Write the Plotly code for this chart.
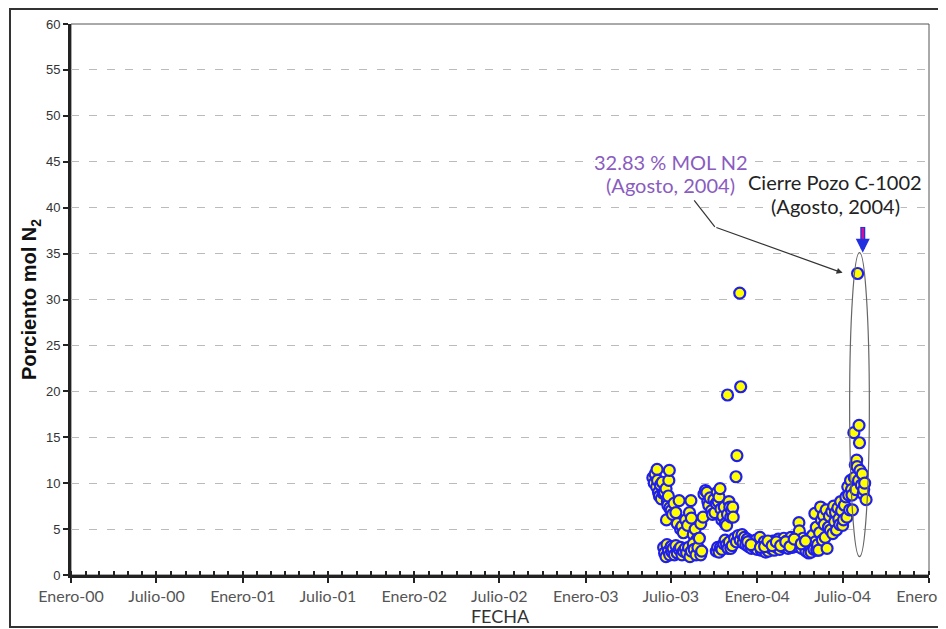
import plotly.graph_objects as go

# ---------------- data (fecha de muestreo, % mol N2) ----------------
f_a = ["2003-05-24","2003-05-27","2003-05-29","2003-06-01","2003-06-02","2003-06-03","2003-06-05","2003-06-07",
       "2003-06-09","2003-06-11","2003-06-13","2003-06-15","2003-06-18","2003-06-21","2003-06-22","2003-06-24",
       "2003-06-25","2003-06-26","2003-06-27","2003-06-28","2003-06-29","2003-07-02","2003-07-05","2003-07-08",
       "2003-07-12","2003-07-15","2003-07-19","2003-07-22","2003-07-25","2003-07-28","2003-08-02","2003-08-06",
       "2003-08-10","2003-08-13","2003-08-14","2003-08-18","2003-08-22","2003-08-25","2003-08-30","2003-09-03",
       "2003-09-08"]
n_a = [10.6,10.0,11.0,9.6,11.5,10.3,9.0,8.6,
       9.8,8.3,10.1,8.9,9.0,9.4,6.0,8.0,
       7.6,8.6,10.3,11.4,7.3,7.0,6.6,7.8,
       6.8,5.6,8.1,5.0,5.3,4.6,6.0,5.4,
       6.8,8.1,6.2,4.4,5.0,3.8,4.0,5.6,
       6.3]

f_b = ["2003-06-16","2003-06-18","2003-06-21","2003-06-23","2003-06-26","2003-06-29","2003-07-02","2003-07-04",
       "2003-07-06","2003-07-09","2003-07-12","2003-07-15","2003-07-19","2003-07-22","2003-07-25","2003-07-28",
       "2003-08-01","2003-08-04","2003-08-08","2003-08-11","2003-08-14","2003-08-18","2003-08-20","2003-08-24",
       "2003-08-28","2003-08-31","2003-09-03","2003-09-05"]
n_b = [3.0,2.4,2.0,3.3,2.6,2.2,3.1,2.5,
       2.9,2.2,3.2,2.4,2.8,3.0,2.2,2.6,
       2.9,2.4,3.0,2.0,2.6,3.4,2.8,2.2,
       3.0,4.0,2.2,2.6]

f_c = ["2003-09-10","2003-09-13","2003-09-16","2003-09-18","2003-09-20","2003-09-23","2003-09-26","2003-09-28",
       "2003-10-01","2003-10-03","2003-10-06","2003-10-08","2003-10-10","2003-10-12","2003-10-14","2003-10-16",
       "2003-10-18","2003-10-20","2003-10-23","2003-10-25","2003-10-28","2003-10-30","2003-11-02","2003-11-04",
       "2003-11-06","2003-11-08","2003-11-10","2003-11-11"]
n_c = [8.8,9.2,9.0,8.0,7.6,8.4,7.0,6.6,
       8.2,6.8,7.8,9.0,8.0,8.5,9.4,7.2,
       6.0,6.4,7.4,5.6,5.4,6.6,8.0,7.4,
       6.3,7.0,7.4,6.3]

f_d = ["2003-10-06","2003-10-09","2003-10-12","2003-10-15","2003-10-18","2003-10-22","2003-10-25","2003-10-28",
       "2003-10-31","2003-11-03","2003-11-06","2003-11-09"]
n_d = [2.6,3.0,2.5,3.0,2.8,3.4,3.8,3.3,
       2.9,3.6,2.9,3.2]

f_e = ["2003-10-30","2003-11-25","2003-11-27","2003-11-19","2003-11-17"]
n_e = [19.6,30.7,20.5,13.0,10.7]

f_f = ["2003-11-14","2003-11-18","2003-11-22","2003-11-26","2003-11-30","2003-12-02","2003-12-05","2003-12-08",
       "2003-12-11","2003-12-14","2003-12-17","2003-12-20","2003-12-23","2003-12-26","2003-12-29","2004-01-01",
       "2004-01-04","2004-01-07","2004-01-10","2004-01-13","2004-01-16","2004-01-19","2004-01-22","2004-01-25",
       "2004-01-28","2004-01-31","2004-02-03","2004-02-06","2004-02-09","2004-02-12","2004-02-15","2004-02-18",
       "2004-02-21","2004-02-24","2004-02-27","2004-03-01","2004-03-04","2004-03-07","2004-03-10","2004-03-13",
       "2004-03-16","2004-03-19","2004-03-22","2004-03-25","2004-03-28","2004-03-30","2004-03-31","2004-04-02",
       "2004-04-05","2004-04-08","2004-04-11","2004-04-14","2004-04-17","2004-04-20","2004-04-23","2004-04-25",
       "2004-04-28","2004-05-01","2004-05-04","2004-05-07",
       "2003-12-12","2003-12-19","2004-01-08","2004-01-17","2004-01-24","2004-02-02","2004-02-11","2004-02-20",
       "2004-03-02","2004-03-11","2004-03-20","2004-04-04","2004-04-13"]
n_f = [4.0,3.6,4.3,3.8,4.4,3.5,4.1,3.3,
       3.9,3.1,3.7,2.9,3.5,3.0,3.8,2.8,
       3.4,4.1,2.7,3.2,3.6,2.5,3.0,2.6,
       3.4,2.9,3.7,2.7,3.3,3.0,3.9,2.8,
       3.5,3.1,4.0,3.2,3.7,2.9,3.5,4.1,
       3.0,3.6,3.3,4.2,3.1,5.7,4.8,3.6,
       2.9,4.0,3.3,2.6,3.8,2.4,3.1,2.5,
       4.3,2.8,3.6,2.7,
       3.6,3.3,3.0,3.1,3.7,3.2,3.6,3.2,
       3.6,3.1,3.9,3.4,3.7]

f_g = ["2004-05-03","2004-05-06","2004-05-09","2004-05-11","2004-05-13","2004-05-15","2004-05-17","2004-05-19",
       "2004-05-21","2004-05-23","2004-05-25","2004-05-27","2004-05-29","2004-06-01","2004-06-03","2004-06-05",
       "2004-06-08","2004-06-10","2004-06-12","2004-06-14","2004-06-16","2004-06-18","2004-06-21","2004-06-23",
       "2004-06-25","2004-06-27","2004-06-29","2004-07-01","2004-07-03","2004-07-05","2004-07-08","2004-07-10",
       "2004-07-12","2004-07-14","2004-07-16","2004-07-18","2004-07-20"]
n_g = [6.7,5.2,3.3,2.7,4.6,7.4,6.0,3.8,
       6.5,5.5,4.1,7.1,2.9,5.2,6.4,4.9,
       6.9,4.5,7.5,5.8,6.8,4.9,7.3,6.1,
       5.5,8.0,7.0,5.4,6.0,7.6,8.5,6.3,
       9.6,8.7,7.1,10.3,9.3]

f_h = ["2004-07-21","2004-07-22","2004-07-25","2004-07-26","2004-07-28","2004-07-29","2004-07-31","2004-08-01",
       "2004-08-02","2004-08-04","2004-08-05","2004-08-06","2004-08-07","2004-08-10","2004-08-12","2004-08-14",
       "2004-08-15","2004-08-17","2004-08-20"]
n_h = [8.7,7.1,15.5,10.6,12.0,9.3,12.5,11.8,
       32.83,10.3,16.3,14.4,11.4,9.8,11.0,8.8,
       9.3,10.0,8.2]

fecha = f_a + f_b + f_c + f_d + f_e + f_f + f_g + f_h
n2 = n_a + n_b + n_c + n_d + n_e + n_f + n_g + n_h

tick_fechas = ["2000-01-01","2000-07-01","2001-01-01","2001-07-01","2002-01-01","2002-07-01",
               "2003-01-01","2003-07-01","2004-01-01","2004-07-01","2005-01-01"]
tick_labels = ["Enero-00","Julio-00","Enero-01","Julio-01","Enero-02","Julio-02",
               "Enero-03","Julio-03","Enero-04","Julio-04","Enero-05"]

# ---------------- figure ----------------
fig = go.Figure()
fig.add_trace(go.Scatter(
    x=fecha, y=n2, mode="markers", showlegend=False,
    marker=dict(size=11, color="#FFFF00", line=dict(color="#1E1EF0", width=2.2)),
))

lab_font = "Lato, 'Open Sans', sans-serif"
arial = "'Liberation Sans', Arial, sans-serif"

# the page body has an 8 px margin; margins are set so the plot area lands where the reference has it
fig.update_layout(
    width=946, height=629,
    margin=dict(l=63, r=25, t=16, b=62, autoexpand=False),
    paper_bgcolor="white", plot_bgcolor="white",
    xaxis=dict(
        type="date", range=["2000-01-01", "2005-01-01"], automargin=False,
        tickvals=tick_fechas, ticktext=tick_labels, ticklabeloverflow="allow",
        ticks="outside", ticklen=5, tickwidth=2, tickcolor="#222",
        showline=True, linewidth=3, linecolor="#222",
        showgrid=False, zeroline=False,
        minor=dict(dtick="M1", tick0="2000-01-01", ticks="inside", ticklen=4,
                   tickwidth=2, tickcolor="#222", showgrid=False),
        tickfont=dict(family=lab_font, size=16, color="#555"),
        title=dict(text="FECHA", font=dict(family=lab_font, size=18, color="#333"), standoff=2),
    ),
    yaxis=dict(
        range=[0, 60], dtick=5, tick0=0, automargin=False,
        ticks="outside", ticklen=5, tickwidth=2, tickcolor="#222",
        showline=True, linewidth=3, linecolor="#222",
        showgrid=True, gridcolor="#BBBBBB", gridwidth=1, griddash="8px,10px",
        zeroline=False,
        tickfont=dict(family=arial, size=13, color="#333"),
        title=dict(text="<b>Porciento mol N<sub>2</sub></b>",
                   font=dict(family=arial, size=20, color="#111"),
                   standoff=4),
    ),
    shapes=[
        # plot-area frame (top & right)
        dict(type="rect", xref="paper", yref="paper", x0=0, x1=1, y0=0, y1=1,
             line=dict(color="#555", width=1), layer="below"),
        # outer frame of the picture
        dict(type="rect", xref="paper", yref="paper", x0=-0.0711, x1=1.0152, y0=-0.0944, y1=1.0272,
             line=dict(color="#333", width=2)),
        # ellipse around the August 2004 samples
        dict(type="circle", xref="x", yref="y", x0="2004-07-16", x1="2004-08-27", y0=2.0, y1=35.1,
             line=dict(color="#666", width=1.2), layer="above"),
        # first segment of the callout connector
        dict(type="line", xref="x", yref="y", x0="2003-08-20", y0=40.8, x1="2003-10-03", y1=37.9,
             line=dict(color="#333", width=1.2)),
        # shut-in arrow shaft (blue outline, magenta core)
        dict(type="line", xref="x", yref="y", x0="2004-08-13", x1="2004-08-13", y0=35.9, y1=37.9,
             line=dict(color="#2030E0", width=5)),
        dict(type="line", xref="x", yref="y", x0="2004-08-13", x1="2004-08-13", y0=35.9, y1=37.8,
             line=dict(color="#D0109A", width=2.5)),
    ],
    annotations=[
        dict(x="2004-07-01", y=32.9, ax="2003-10-03", ay=37.9, xref="x", yref="y", axref="x", ayref="y",
             showarrow=True, arrowhead=2, arrowsize=1, arrowwidth=1.2, arrowcolor="#333", text=""),
        dict(x="2004-08-13", y=35.1, ax="2004-08-13", ay=36.2, xref="x", yref="y", axref="x", ayref="y",
             showarrow=True, arrowhead=2, arrowsize=0.7, arrowwidth=4, arrowcolor="#2030E0", text=""),
        dict(x="2003-07-01", y=45.0, xref="x", yref="y", showarrow=False, text="32.83 % MOL N2",
             bgcolor="white", borderpad=0,
             font=dict(family=lab_font, size=20, color="#8A5CC0")),
        dict(x="2003-07-01", y=42.5, xref="x", yref="y", showarrow=False, text="(Agosto, 2004)",
             bgcolor="white", borderpad=0,
             font=dict(family=lab_font, size=20, color="#8A5CC0")),
        dict(x="2004-06-14", y=42.8, xref="x", yref="y", showarrow=False, text="Cierre Pozo C-1002",
             bgcolor="white", borderpad=0,
             font=dict(family=lab_font, size=20, color="#222")),
        dict(x="2004-06-15", y=40.2, xref="x", yref="y", showarrow=False, text="(Agosto, 2004)",
             bgcolor="white", borderpad=0,
             font=dict(family=lab_font, size=20, color="#222")),
    ],
)

fig.write_html("out.html")
